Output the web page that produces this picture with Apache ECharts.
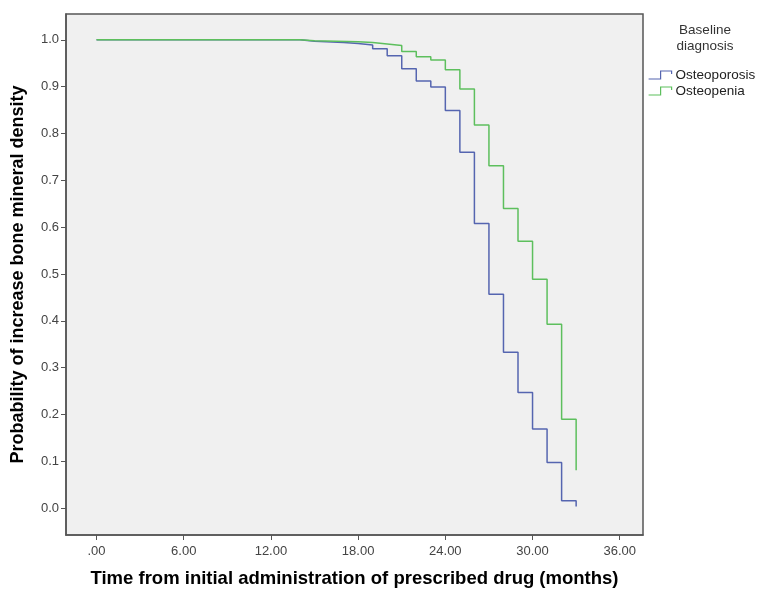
<!DOCTYPE html>
<html>
<head>
  <meta charset="UTF-8">
  <title>Probability of increase bone mineral density</title>
  <script src="https://cdn.jsdelivr.net/npm/echarts@6/dist/echarts.min.js"></script>
  <style>
    html, body { margin: 0; padding: 0; background: #fff; }
    #main { width: 760px; height: 590px; }
  </style>
</head>
<body>
<div id="main"></div>
<script type="text/javascript">
  // months at which the curves step, and the value held from that month on
  var osteoporosisTime = [0, 14, 15, 17, 18, 19, 20, 21, 22, 23, 24, 25, 26, 27, 28, 29, 30, 31, 32, 33];
  var osteoporosisProb = [1.0, 0.997, 0.994, 0.992, 0.989, 0.981, 0.966, 0.938, 0.912, 0.899, 0.849, 0.760, 0.608, 0.457, 0.333, 0.247, 0.169, 0.098, 0.016, 0.004];

  var osteopeniaTime = [0, 14, 15, 18, 19, 20, 21, 22, 23, 24, 25, 26, 27, 28, 29, 30, 31, 32, 33];
  var osteopeniaProb = [1.0, 0.998, 0.996, 0.994, 0.991, 0.988, 0.975, 0.964, 0.957, 0.936, 0.895, 0.818, 0.731, 0.640, 0.570, 0.489, 0.393, 0.190, 0.081];

  var xTicks = [0, 6, 12, 18, 24, 30, 36];
  var yTicks = [0, 0.1, 0.2, 0.3, 0.4, 0.5, 0.6, 0.7, 0.8, 0.9, 1.0];

  var blue = '#5565b0';
  var green = '#5dbf5d';

  function pairs(t, v) {
    var out = [];
    for (var i = 0; i < t.length; i++) out.push([t[i], v[i]]);
    return out;
  }

  var font = "'Liberation Sans', Arial, sans-serif";

  var option = {
    animation: false,
    textStyle: { fontFamily: font },
    title: {
      text: 'Baseline\ndiagnosis',
      left: 705,
      top: 22,
      padding: 0,
      textAlign: 'center',
      textStyle: { fontSize: 13.5, fontWeight: 'normal', color: '#333', lineHeight: 16, fontFamily: font }
    },
    legend: {
      orient: 'vertical',
      left: 648,
      top: 68,
      padding: 0,
      itemGap: 2,
      itemWidth: 25,
      itemHeight: 8,
      icon: 'path://M0,8 L12,8 L12,0 L23,0 L23,3',
      textStyle: { fontSize: 13.5, color: '#222', fontFamily: font, padding: [0, 0, 0, -2] },
      data: [
        { name: 'Osteoporosis', itemStyle: { color: 'transparent', borderColor: blue, borderWidth: 1.2 } },
        { name: 'Osteopenia', itemStyle: { color: 'transparent', borderColor: green, borderWidth: 1.2 } }
      ]
    },
    grid: {
      left: 66,
      right: 117,
      top: 14,
      bottom: 55,
      outerBoundsMode: 'none',
      show: true,
      backgroundColor: '#f0f0f0',
      borderColor: '#555',
      borderWidth: 1.5
    },
    xAxis: {
      type: 'value',
      min: -2.1,
      max: 37.6,
      name: 'Time from initial administration of prescribed drug (months)',
      nameLocation: 'middle',
      nameGap: 34,
      nameTextStyle: { fontSize: 18.5, fontWeight: 'bold', color: '#000', fontFamily: font },
      axisLine: { onZero: false, lineStyle: { color: '#555', width: 1.5 } },
      axisTick: { customValues: xTicks, length: 5, lineStyle: { color: '#555' } },
      axisLabel: {
        customValues: xTicks,
        margin: 10,
        fontSize: 13,
        color: '#444',
        formatter: function (v) { return v === 0 ? '.00' : v.toFixed(2); }
      },
      splitLine: { show: false }
    },
    yAxis: {
      type: 'value',
      min: -0.057,
      max: 1.055,
      name: 'Probability of increase bone mineral density',
      nameLocation: 'middle',
      nameGap: 39,
      nameTextStyle: { fontSize: 18, fontWeight: 'bold', color: '#000', fontFamily: font },
      axisLine: { onZero: false, lineStyle: { color: '#555', width: 1.5 } },
      axisTick: { customValues: yTicks, length: 5, lineStyle: { color: '#555' } },
      axisLabel: {
        customValues: yTicks,
        margin: 7,
        fontSize: 13,
        color: '#444',
        formatter: function (v) { return v.toFixed(1); }
      },
      splitLine: { show: false }
    },
    series: [
      {
        name: 'Osteoporosis',
        type: 'line',
        step: 'end',
        showSymbol: false,
        symbol: 'none',
        color: blue,
        lineStyle: { width: 1.5 },
        data: pairs(osteoporosisTime, osteoporosisProb)
      },
      {
        name: 'Osteopenia',
        type: 'line',
        step: 'end',
        showSymbol: false,
        symbol: 'none',
        color: green,
        lineStyle: { width: 1.5 },
        data: pairs(osteopeniaTime, osteopeniaProb)
      }
    ]
  };

  var myChart = echarts.init(document.getElementById('main'));
  myChart.setOption(option);
</script>
</body>
</html>
